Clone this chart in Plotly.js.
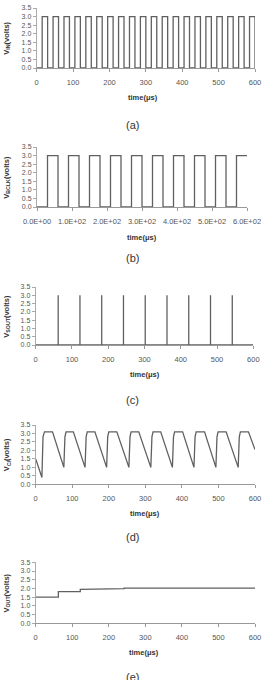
<!DOCTYPE html>
<html><head><meta charset="utf-8">
<script src="https://cdn.plot.ly/plotly-3.0.1.min.js"></script>
<style>html,body{margin:0;padding:0;background:#fff;}#plot{width:265px;height:680px;}</style>
</head><body><div id="plot"></div>
<script>
// ---- data ----
// (a) V_IN square wave: rising / falling edge times (µs), high level 3.0 V
const vinRise = [15,45,75,105,135,165,195,225,255,285,315,345,375,405,435,465,495,525,555,585];
const vinFall = [30,60,90,120,150,180,210,240,270,300,330,360,390,420,450,480,510,540,570,600];
const vinHigh = 3.0;
// (b) divided clock: rising / falling edges (last pulse still high at 600)
const bRise = [30,90,150,210,270,330,390,450,510,570];
const bFall = [60,120,180,240,300,360,420,480,540];
const bHigh = 3.0;
const bTickVals = [0,100,200,300,400,500,600];
const bTickText = ["0.0E+00","1.0E+02","2.0E+02","3.0E+02","4.0E+02","5.0E+02","6.0E+02"];
// (c) V_SOUT spikes
const spikeTimes = [62,122,182,242,302,362,422,482,542];
const spikeHigh = 3.0;
// (d) V_CI sawtooth
const ciX = [0,17,20,24,46,77,80,83,103,135,138,141,162,194,197,200,222,255,258,261,282,315,318,321,342,374,377,380,402,433,436,439,462,493,496,499,521,554,557,560,582,600];
const ciY = [1.5,0.4,2.8,3.1,3.1,1.0,2.8,3.1,3.1,1.0,2.8,3.1,3.1,1.0,2.8,3.1,3.1,1.0,2.8,3.1,3.1,1.0,2.8,3.1,3.1,1.0,2.8,3.1,3.1,1.0,2.8,3.1,3.1,1.0,2.8,3.1,3.1,1.0,2.8,3.1,3.1,2.05];
// (e) V_OUT staircase
const outX = [0,62,62,122,122,182,182,242,242,600];
const outY = [1.5,1.5,1.82,1.82,1.95,1.95,1.99,1.99,2.02,2.02];

const yTitles = ["V<sub>IN</sub>(volts)","V<sub>BCLK</sub>(volts)","V<sub>SOUT</sub>(volts)","V<sub>CI</sub>(volts)","V<sub>OUT</sub>(volts)"];
const xTitle = "time(μs)";
const captions = ["(a)","(b)","(c)","(d)","(e)"];

// ---- build step paths from edges ----
function pulses(rise, fall, hi, end){
  const x=[0], y=[0];
  for(let i=0;i<rise.length;i++){
    x.push(rise[i],rise[i]); y.push(0,hi);
    if(i<fall.length){ x.push(fall[i],fall[i]); y.push(hi,0); }
    else { x.push(end); y.push(hi); }
  }
  if(fall.length===rise.length){ x.push(end); y.push(0); }
  return {x,y};
}
const a = pulses(vinRise, vinFall, vinHigh, 600);
const b = pulses(bRise, bFall, bHigh, 600);
const c = (function(){const x=[0],y=[0];spikeTimes.forEach(t=>{x.push(t,t,t);y.push(0,spikeHigh,0);});x.push(600);y.push(0);return {x,y};})();

const W=265,H=680;
const boxes = [ // pixel boxes: left, right, top, bottom
  [36.7,255,8,68],
  [37,247,147,207],
  [35.7,253.3,287,345],
  [35.7,255,425,484.3],
  [35.7,255,562.3,623.3]
];
const xtitleY=[98,237,374,513,652];
const xtitleX=[143,142,145,145,144];
const capY=[125,258,400,537,677];

const lineStyle={color:'#606060',width:1.3};
const series=[a,b,c,{x:ciX,y:ciY},{x:outX,y:outY}];
const data=series.map((s,i)=>({x:s.x,y:s.y,type:'scatter',mode:'lines',line:lineStyle,
  xaxis:'x'+(i?i+1:''),yaxis:'y'+(i?i+1:''),hoverinfo:'skip',showlegend:false}));

const fontFam='"Liberation Sans", Arial, sans-serif';
const layout={width:W,height:H,margin:{l:0,r:0,t:0,b:0},paper_bgcolor:'#fff',plot_bgcolor:'#fff',
  showlegend:false,font:{family:fontFam,color:'#555',size:7},annotations:[]};
boxes.forEach((bx,i)=>{
  const n=i?i+1:'';
  const xa={domain:[bx[0]/W,bx[1]/W],range:[0,600],anchor:'y'+n,showgrid:false,zeroline:false,
    showline:true,linecolor:'#999',linewidth:1,ticks:'outside',ticklen:3,tickcolor:'#999',ticklabelstandoff:4,
    tickfont:{size:7.5,color:'#555',family:fontFam},tickvals:bTickVals,fixedrange:true};
  if(i===1){xa.ticktext=bTickText;}
  const ya={domain:[1-bx[3]/H,1-bx[2]/H],range:[0,3.5],anchor:'x'+n,showgrid:false,zeroline:false,
    showline:true,linecolor:'#aaa',linewidth:1,ticks:'outside',ticklen:3,tickcolor:'#aaa',
    dtick:0.5,tick0:0,tickformat:'.1f',tickfont:{size:7,color:'#555',family:fontFam},fixedrange:true};
  layout['xaxis'+n]=xa; layout['yaxis'+n]=ya;
  layout.annotations.push({text:'<b>'+yTitles[i]+'</b>',xref:'paper',yref:'paper',x:6.7/W,y:1-((bx[2]+bx[3])/2)/H,
    xanchor:'center',yanchor:'middle',textangle:-90,showarrow:false,font:{size:7.5,color:'#333',family:fontFam}});
  layout.annotations.push({text:'<b>'+xTitle+'</b>',xref:'paper',yref:'paper',x:xtitleX[i]/W,y:1-xtitleY[i]/H,
    xanchor:'center',yanchor:'middle',showarrow:false,font:{size:7.5,color:'#333',family:fontFam}});
  layout.annotations.push({text:captions[i],xref:'paper',yref:'paper',x:132/W,y:1-capY[i]/H,
    xanchor:'center',yanchor:'middle',showarrow:false,font:{size:11,color:'#333',family:fontFam}});
});
Plotly.newPlot('plot',data,layout,{staticPlot:true,displayModeBar:false});
</script></body></html>
